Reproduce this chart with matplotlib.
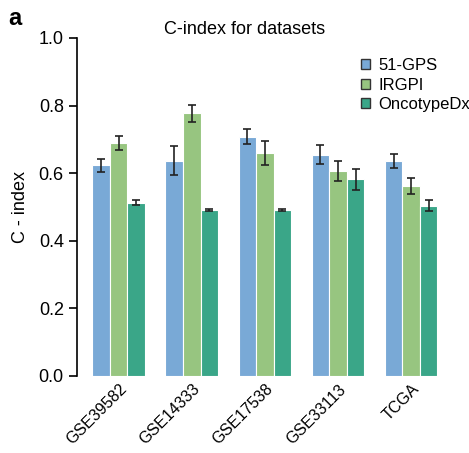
import numpy as np
import matplotlib
matplotlib.use('Agg')
import matplotlib.pyplot as plt
from matplotlib.patches import Patch

plt.rcParams['font.family'] = ['Liberation Sans', 'DejaVu Sans']

datasets = ['GSE39582', 'GSE14333', 'GSE17538', 'GSE33113', 'TCGA']
models = ['51-GPS', 'IRGPI', 'OncotypeDx']
gps = [0.624, 0.637, 0.708, 0.654, 0.636]
gps_err = [0.019, 0.043, 0.023, 0.028, 0.021]
irgpi = [0.690, 0.777, 0.659, 0.606, 0.561]
irgpi_err = [0.021, 0.026, 0.036, 0.029, 0.024]
onco = [0.513, 0.491, 0.491, 0.582, 0.504]
onco_err = [0.008, 0.003, 0.003, 0.031, 0.017]
colors = ['#79a9d6', '#97c580', '#3aa688']

fig = plt.figure(figsize=(4.69, 4.53), dpi=100)
ax = fig.add_axes([77/469, 1-376/453, (455-77)/469, (376-38)/453])

x = np.arange(len(datasets))
w = 0.24
for i, (vals, errs) in enumerate([(gps, gps_err), (irgpi, irgpi_err), (onco, onco_err)]):
    ax.bar(x + (i-1)*w, vals, w, color=colors[i], edgecolor='white', linewidth=0.8,
           yerr=errs, error_kw=dict(ecolor='#222222', elinewidth=1.2, capsize=3, capthick=1.2))

ax.set_xlim(-0.57, 4.6)
ax.set_ylim(0, 1.0)
ax.set_yticks([0.0, 0.2, 0.4, 0.6, 0.8, 1.0])
ax.set_yticklabels(['0.0', '0.2', '0.4', '0.6', '0.8', '1.0'], fontsize=13)
ax.set_xticks(x)
ax.set_xticklabels(datasets, rotation=45, ha='right', va='top', rotation_mode='anchor', fontsize=11.5)
ax.tick_params(axis='x', length=0, pad=4)
ax.tick_params(axis='y', direction='out', length=5.5, width=1.2, pad=4)
for s in ['top', 'right', 'bottom']:
    ax.spines[s].set_visible(False)
ax.spines['left'].set_linewidth(1.2)
ax.set_ylabel('C - index', fontsize=13, labelpad=7)
ax.set_title('C-index for datasets', fontsize=13, x=(245-77)/378, pad=0)

handles = [Patch(facecolor=c, edgecolor='#333333', linewidth=1) for c in colors]
fig.legend(handles, models, loc='upper left', bbox_to_anchor=(361/469, 1-58/453),
           bbox_transform=fig.transFigure, frameon=False, borderpad=0, borderaxespad=0,
           fontsize=12, handlelength=0.55, handleheight=0.55, handletextpad=0.5, labelspacing=0.27)

fig.text(0.018, 0.985, 'a', fontsize=17, fontweight='bold', va='top')

fig.savefig('out.png', dpi=100)
